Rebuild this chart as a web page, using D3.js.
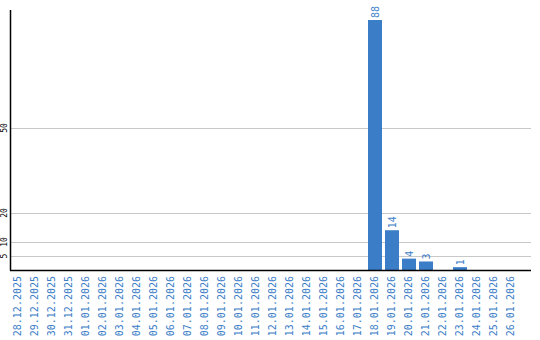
<!DOCTYPE html>
<html>
<head>
<meta charset="utf-8">
<script src="https://cdn.jsdelivr.net/npm/d3@7"></script>
<style>
  html, body { margin: 0; padding: 0; background: #fff; }
  svg { display: block; }
</style>
</head>
<body>
<svg id="chart"></svg>
<script>
// data
const dates = [
  "28.12.2025", "29.12.2025", "30.12.2025", "31.12.2025", "01.01.2026", "02.01.2026",
  "03.01.2026", "04.01.2026", "05.01.2026", "06.01.2026", "07.01.2026", "08.01.2026",
  "09.01.2026", "10.01.2026", "11.01.2026", "12.01.2026", "13.01.2026", "14.01.2026",
  "15.01.2026", "16.01.2026", "17.01.2026", "18.01.2026", "19.01.2026", "20.01.2026",
  "21.01.2026", "22.01.2026", "23.01.2026", "24.01.2026", "25.01.2026", "26.01.2026"
];
const counts = [
  0, 0, 0, 0, 0, 0,
  0, 0, 0, 0, 0, 0,
  0, 0, 0, 0, 0, 0,
  0, 0, 0, 88, 14, 4,
  3, 0, 1, 0, 0, 0
];
const yTicks = [5, 10, 20, 50];

const width = 540, height = 340;
const blue = "#3b7dc7";
const mono = "'DejaVu Sans Mono', monospace";

const svg = d3.select("#chart").attr("width", width).attr("height", height);

const x = d3.scaleBand().domain(dates).range([11, 518]).paddingInner(3 / 17).paddingOuter(0);
const y = d3.scaleLinear().domain([0, 88]).range([270, 20]);

// grid
svg.append("g").selectAll("line").data(yTicks).enter().append("line")
  .attr("x1", 11).attr("x2", 531)
  .attr("y1", d => Math.round(y(d)) + 0.5).attr("y2", d => Math.round(y(d)) + 0.5)
  .attr("stroke", "#c8c8c8").attr("stroke-width", 1);

// y tick labels (rotated)
svg.append("g").selectAll("text").data(yTicks).enter().append("text")
  .attr("transform", d => `translate(7,${Math.round(y(d))}) rotate(-90)`)
  .attr("text-anchor", "middle")
  .attr("font-family", mono).attr("font-size", 8).attr("fill", "#000")
  .text(d => d);

// bars
const data = dates.map((d, i) => ({ date: d, value: counts[i] }));
const shown = data.filter(d => d.value > 0);

svg.append("g").selectAll("rect").data(shown).enter().append("rect")
  .attr("x", d => x(d.date)).attr("width", x.bandwidth())
  .attr("y", d => y(d.value)).attr("height", d => y(0) - y(d.value))
  .attr("fill", blue);

svg.append("g").selectAll("text").data(shown).enter().append("text")
  .attr("transform", d => `translate(${x(d.date) + x.bandwidth() / 2 + 4},${y(d.value) - 2}) rotate(-90)`)
  .attr("font-family", mono).attr("font-size", 10).attr("fill", blue)
  .text(d => d.value);

// axes lines
svg.append("line").attr("x1", 10.5).attr("x2", 10.5).attr("y1", 10).attr("y2", 270.5)
  .attr("stroke", "#000").attr("stroke-width", 1.5);
svg.append("line").attr("x1", 10).attr("x2", 531).attr("y1", 270.5).attr("y2", 270.5)
  .attr("stroke", "#000").attr("stroke-width", 1.5);

// x labels
svg.append("g").selectAll("text").data(dates).enter().append("text")
  .attr("transform", d => `translate(${x(d) + x.bandwidth() / 2 + 3},276) rotate(-90)`)
  .attr("text-anchor", "end")
  .attr("font-family", mono).attr("font-size", 10).attr("fill", blue)
  .text(d => d);
</script>
</body>
</html>
